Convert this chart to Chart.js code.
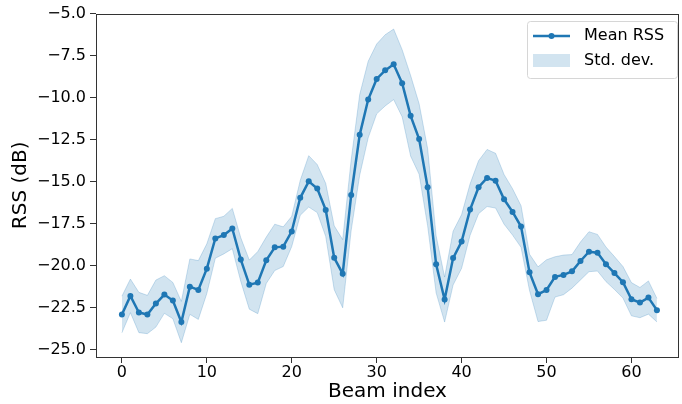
<!DOCTYPE html>
<html lang="en">

<head>
  <meta charset="utf-8">
  <title>Mean RSS per beam</title>
  <style>
    html, body { margin: 0; padding: 0; background: #fff; overflow: hidden; }
    .chart { width: 682px; height: 404px; }
  </style>
</head>

<body>
  <div class="chart">
    <canvas id="chart" width="682" height="404"></canvas>
  </div>

  <script src="https://cdn.jsdelivr.net/npm/chart.js@4.4.1/dist/chart.umd.min.js"></script>
  <script>
    // data
    const beamIndex = [0, 1, 2, 3, 4, 5, 6, 7, 8, 9,
      10, 11, 12, 13, 14, 15, 16, 17, 18, 19,
      20, 21, 22, 23, 24, 25, 26, 27, 28, 29,
      30, 31, 32, 33, 34, 35, 36, 37, 38, 39,
      40, 41, 42, 43, 44, 45, 46, 47, 48, 49,
      50, 51, 52, 53, 54, 55, 56, 57, 58, 59,
      60, 61, 62, 63];
    const meanRss = [-22.92, -21.81, -22.80, -22.92, -22.27, -21.73, -22.09, -23.37, -21.26, -21.46,
      -20.19, -18.39, -18.19, -17.80, -19.65, -21.14, -21.02, -19.69, -18.92, -18.88,
      -17.97, -15.97, -14.99, -15.42, -16.69, -19.54, -20.49, -15.80, -12.22, -10.12,
      -8.89, -8.38, -8.02, -9.15, -11.09, -12.47, -15.34, -19.93, -22.03, -19.56,
      -18.57, -16.67, -15.34, -14.79, -14.95, -16.06, -16.81, -17.68, -20.41, -21.71,
      -21.46, -20.68, -20.56, -20.35, -19.73, -19.18, -19.24, -19.93, -20.45, -21.00,
      -22.01, -22.21, -21.91, -22.66];
    const stdRss = [1.09, 1.0, 1.2, 1.14, 1.4, 1.12, 1.08, 1.23, 1.65, 1.75,
      1.48, 1.18, 1.12, 1.2, 1.3, 1.46, 1.85, 1.38, 1.38, 1.18,
      0.9, 1.04, 1.53, 1.43, 1.58, 1.9, 2.03, 2.1, 2.4, 2.28,
      2.08, 2.12, 2.1, 2.0, 2.4, 2.1, 2.3, 1.7, 1.34, 1.6,
      1.6, 1.53, 1.58, 1.7, 1.63, 1.48, 1.38, 1.24, 1.08, 1.63,
      1.8, 1.2, 1.18, 1.0, 1.13, 1.19, 1.09, 1.03, 0.98, 0.94,
      0.99, 0.9, 0.99, 0.7];
    const xTicks = [0, 10, 20, 30, 40, 50, 60];
    const yTicks = [-25, -22.5, -20, -17.5, -15, -12.5, -10, -7.5, -5];
    const legendLabels = ['Mean RSS', 'Std. dev.'];

    const blue = '#1f77b4';
    const bandBlue = 'rgba(31,119,180,0.2)';
    const font = 'DejaVu Sans';

    const meanPts = beamIndex.map((x, i) => ({ x: x, y: meanRss[i] }));
    const upperPts = beamIndex.map((x, i) => ({ x: x, y: meanRss[i] + stdRss[i] }));
    const lowerPts = beamIndex.map((x, i) => ({ x: x, y: meanRss[i] - stdRss[i] }));

    const minus = v => String(v).replace('-', '\u2212');

    // matplotlib style frame on all four sides
    const framePlugin = {
      id: 'frame',
      afterDraw(chart) {
        const { ctx, chartArea: a } = chart;
        ctx.save();
        ctx.strokeStyle = '#333';
        ctx.lineWidth = 1;
        ctx.strokeRect(Math.round(a.left) + 0.5, Math.round(a.top) + 0.5,
          Math.round(a.right - a.left) - 1, Math.round(a.bottom - a.top));
        ctx.restore();
      }
    };

    // legend box drawn like the matplotlib one (line + marker, filled patch)
    const legendPlugin = {
      id: 'mplLegend',
      afterDraw(chart) {
        const ctx = chart.ctx;
        ctx.save();
        ctx.beginPath();
        ctx.roundRect(527.5, 21.5, 150, 57, 3);
        ctx.fillStyle = 'rgba(255,255,255,0.8)';
        ctx.fill();
        ctx.strokeStyle = '#d6d6d6';
        ctx.lineWidth = 1;
        ctx.stroke();

        ctx.strokeStyle = blue;
        ctx.lineWidth = 2.5;
        ctx.beginPath();
        ctx.moveTo(533, 36);
        ctx.lineTo(570, 36);
        ctx.stroke();
        ctx.fillStyle = blue;
        ctx.beginPath();
        ctx.arc(551.5, 36, 3, 0, Math.PI * 2);
        ctx.fill();

        ctx.fillStyle = bandBlue;
        ctx.fillRect(533, 54, 37, 13);

        ctx.fillStyle = '#000';
        ctx.font = '16px "' + font + '"';
        ctx.textBaseline = 'middle';
        ctx.fillText(legendLabels[0], 584, 36);
        ctx.fillText(legendLabels[1], 584, 61);
        ctx.restore();
      }
    };

    const ctx = document.querySelector('#chart').getContext('2d');

    const chart = new Chart(ctx, {
      type: 'line',
      data: {
        datasets: [
          {
            label: legendLabels[0],
            data: meanPts,
            borderColor: blue,
            backgroundColor: blue,
            borderWidth: 2.5,
            pointRadius: 3,
            pointHoverRadius: 3,
            pointBorderWidth: 0,
            fill: false,
            order: 0
          },
          {
            label: legendLabels[1],
            data: upperPts,
            borderColor: 'rgba(31,119,180,0.22)',
            borderWidth: 1,
            backgroundColor: bandBlue,
            pointRadius: 0,
            fill: '+1',
            order: 1
          },
          {
            label: 'lower',
            data: lowerPts,
            borderColor: 'rgba(31,119,180,0.22)',
            borderWidth: 1,
            pointRadius: 0,
            fill: false,
            order: 2
          }
        ]
      },
      options: {
        responsive: false,
        animation: false,
        events: [],
        layout: { padding: { top: 12, right: 1, left: 0, bottom: 0 } },
        plugins: {
          legend: { display: false },
          tooltip: { enabled: false }
        },
        scales: {
          x: {
            type: 'linear',
            min: -3.05,
            max: 65.6,
            afterBuildTicks: s => { s.ticks = xTicks.map(v => ({ value: v })); },
            afterFit: s => { s.height = 47; },
            grid: { drawOnChartArea: false, drawTicks: true, tickLength: 6, color: '#333' },
            border: { display: false },
            ticks: {
              color: '#000',
              padding: 0,
              maxRotation: 0,
              font: { family: font, size: 16 },
              callback: v => minus(v)
            },
            title: {
              display: true,
              text: 'Beam index',
              color: '#000',
              font: { family: font, size: 20 },
              padding: { top: 0, bottom: 0 }
            }
          },
          y: {
            type: 'linear',
            min: -25.45,
            max: -5.0,
            afterBuildTicks: s => { s.ticks = yTicks.map(v => ({ value: v })); },
            afterFit: s => { s.width = 96; },
            grid: { drawOnChartArea: false, drawTicks: true, tickLength: 6, color: '#333' },
            border: { display: false },
            ticks: {
              color: '#000',
              padding: 4,
              font: { family: font, size: 16 },
              callback: v => minus(v.toFixed(1))
            },
            title: {
              display: true,
              text: 'RSS (dB)',
              color: '#000',
              font: { family: font, size: 20 },
              padding: { top: 9, bottom: 0 }
            }
          }
        }
      },
      plugins: [framePlugin, legendPlugin]
    });
  </script>
</body>

</html>
